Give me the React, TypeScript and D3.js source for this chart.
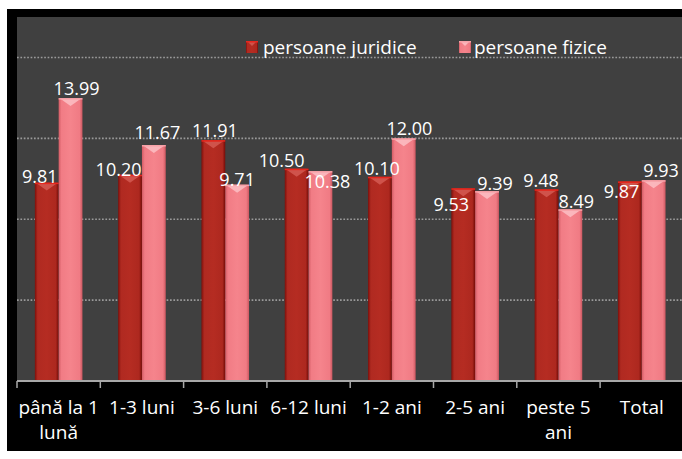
import React from "react";
import * as d3 from "d3";

const categories = ["până la 1 lună", "1-3 luni", "3-6 luni", "6-12 luni", "1-2 ani", "2-5 ani", "peste 5 ani", "Total"];
const seriesNames = ["persoane juridice", "persoane fizice"];
const juridice = [9.81, 10.2, 11.91, 10.5, 10.1, 9.53, 9.48, 9.87];
const fizice = [13.99, 11.67, 9.71, 10.38, 12.0, 9.39, 8.49, 9.93];
const yTicks = [4, 8, 12, 16];
const yMax = 18;

// label nudges (dx, dy) relative to bar centre / bar top, per category per series
const labelNudge: [number, number][][] = [
  [[-7, 0], [6, -3]],
  [[-11.5, 1], [3.6, -6]],
  [[1.6, -3], [0, 1]],
  [[-15, -2], [7, 17]],
  [[-3, -2], [5.7, -3]],
  [[-12, 22.5], [8, -1]],
  [[-5.6, -2], [6, -1]],
  [[-8.4, 16.6], [7.3, -3]],
];

const W = 682;
const H = 459;
const plot = { left: 17, top: 17, right: 683.4, bottom: 381 };
const FONT = "'Open Sans', sans-serif";

const seriesStyle = [
  { id: "gRed", stops: ["#7e0f0a", "#b02a21", "#b52c22", "#ad281f", "#740b07"], top: "#e8271e", cap: "#d45a52" },
  { id: "gPink", stops: ["#d35c65", "#f17c85", "#f5848c", "#f07b84", "#cc5760"], top: "#f7a3a9", cap: "#fbc0c4" },
];

function wrap(text: string, width: number, font: string): string[] {
  const canvas = document.createElement("canvas");
  const ctx = canvas.getContext("2d");
  if (!ctx) return [text];
  ctx.font = font;
  const words = text.split(" ");
  const lines: string[] = [];
  let cur = "";
  for (const w of words) {
    const t = cur ? cur + " " + w : w;
    if (ctx.measureText(t).width > width && cur) {
      lines.push(cur);
      cur = w;
    } else cur = t;
  }
  if (cur) lines.push(cur);
  return lines;
}

function Bar({ x, y, w, h, s, cap = 8 }: { x: number; y: number; w: number; h: number; s: number; cap?: number }) {
  const st = seriesStyle[s];
  const capH = Math.min(cap, h);
  return (
    <g>
      <rect x={x} y={y} width={w} height={h} fill={`url(#${st.id})`} />
      <polygon
        points={`${x + 2},${y + 1} ${x + w - 2},${y + 1} ${x + w / 2},${y + capH}`}
        fill={st.cap}
        opacity={0.85}
      />
      <rect x={x} y={y} width={w} height={1.5} fill={st.top} />
    </g>
  );
}

export default function App() {
  const x0 = d3.scaleBand<string>().domain(categories).range([plot.left, plot.right]).paddingInner(0).paddingOuter(0);
  const x1 = d3.scaleBand<string>().domain(seriesNames).range([0, x0.bandwidth()]).paddingInner(0).paddingOuter(0.75);
  const y = d3.scaleLinear().domain([0, yMax]).range([plot.bottom, plot.top]);
  const series = [juridice, fizice];
  const bw = x1.bandwidth();
  const catFont = `19px ${FONT}`;

  const legendItems = [
    { name: seriesNames[0], mx: 246, tx: 263 },
    { name: seriesNames[1], mx: 459, tx: 474 },
  ];

  return (
    <div style={{ position: "fixed", left: 0, top: 0 }}>
      <svg width={W} height={H} style={{ display: "block" }}>
        <defs>
          {seriesStyle.map((st) => (
            <linearGradient key={st.id} id={st.id} x1="0" x2="1" y1="0" y2="0">
              <stop offset="0%" stopColor={st.stops[0]} />
              <stop offset="12%" stopColor={st.stops[1]} />
              <stop offset="50%" stopColor={st.stops[2]} />
              <stop offset="88%" stopColor={st.stops[3]} />
              <stop offset="100%" stopColor={st.stops[4]} />
            </linearGradient>
          ))}
        </defs>
        <rect x={0} y={0} width={W} height={H} fill="#ffffff" />
        <rect x={7} y={9} width={W - 7} height={442} fill="#000000" />
        <rect x={plot.left} y={plot.top} width={W - plot.left} height={plot.bottom - plot.top} fill="#404040" />
        {yTicks.map((t) => (
          <line
            key={t}
            x1={plot.left}
            x2={W}
            y1={y(t)}
            y2={y(t)}
            stroke="#9a9a9a"
            strokeWidth={1.6}
            strokeDasharray="1.7 1.7"
          />
        ))}
        {/* legend */}
        {legendItems.map((it, i) => (
          <g key={it.name}>
            <Bar x={it.mx} y={41} w={12} h={12} s={i} cap={5} />
            <text x={it.tx} y={54} fill="#ffffff" fontFamily={FONT} fontSize={19}>
              {it.name}
            </text>
          </g>
        ))}
        {/* bars */}
        {categories.map((c, ci) =>
          series.map((vals, si) => {
            const bx = (x0(c) ?? 0) + (x1(seriesNames[si]) ?? 0);
            const by = y(vals[ci]);
            return <Bar key={c + si} x={bx} y={by} w={bw} h={plot.bottom - by} s={si} />;
          })
        )}
        {/* axis */}
        <line x1={plot.left} x2={W} y1={plot.bottom} y2={plot.bottom} stroke="#a8a8a8" strokeWidth={2} />
        {d3.range(categories.length + 1).map((i) => {
          const tx = plot.left + i * x0.step();
          return <line key={i} x1={tx} x2={tx} y1={plot.bottom} y2={plot.bottom + 7} stroke="#a8a8a8" strokeWidth={1.5} />;
        })}
        {/* data labels */}
        {categories.map((c, ci) =>
          series.map((vals, si) => {
            const cx = (x0(c) ?? 0) + (x1(seriesNames[si]) ?? 0) + bw / 2;
            const by = y(vals[ci]);
            const [dx, dy] = labelNudge[ci][si];
            return (
              <text
                key={"l" + c + si}
                x={cx + dx}
                y={by + dy}
                textAnchor="middle"
                fill="#ffffff"
                fontFamily={FONT}
                fontSize={18}
              >
                {vals[ci].toFixed(2)}
              </text>
            );
          })
        )}
        {/* category labels */}
        {categories.map((c) => {
          const lines = wrap(c, x0.bandwidth() - 2, catFont);
          const cx = (x0(c) ?? 0) + x0.bandwidth() / 2;
          return (
            <text key={"c" + c} x={cx} y={414} textAnchor="middle" fill="#ffffff" fontFamily={FONT} fontSize={19}>
              {lines.map((ln, li) => (
                <tspan key={li} x={cx} dy={li === 0 ? 0 : 25}>
                  {ln}
                </tspan>
              ))}
            </text>
          );
        })}
      </svg>
    </div>
  );
}
